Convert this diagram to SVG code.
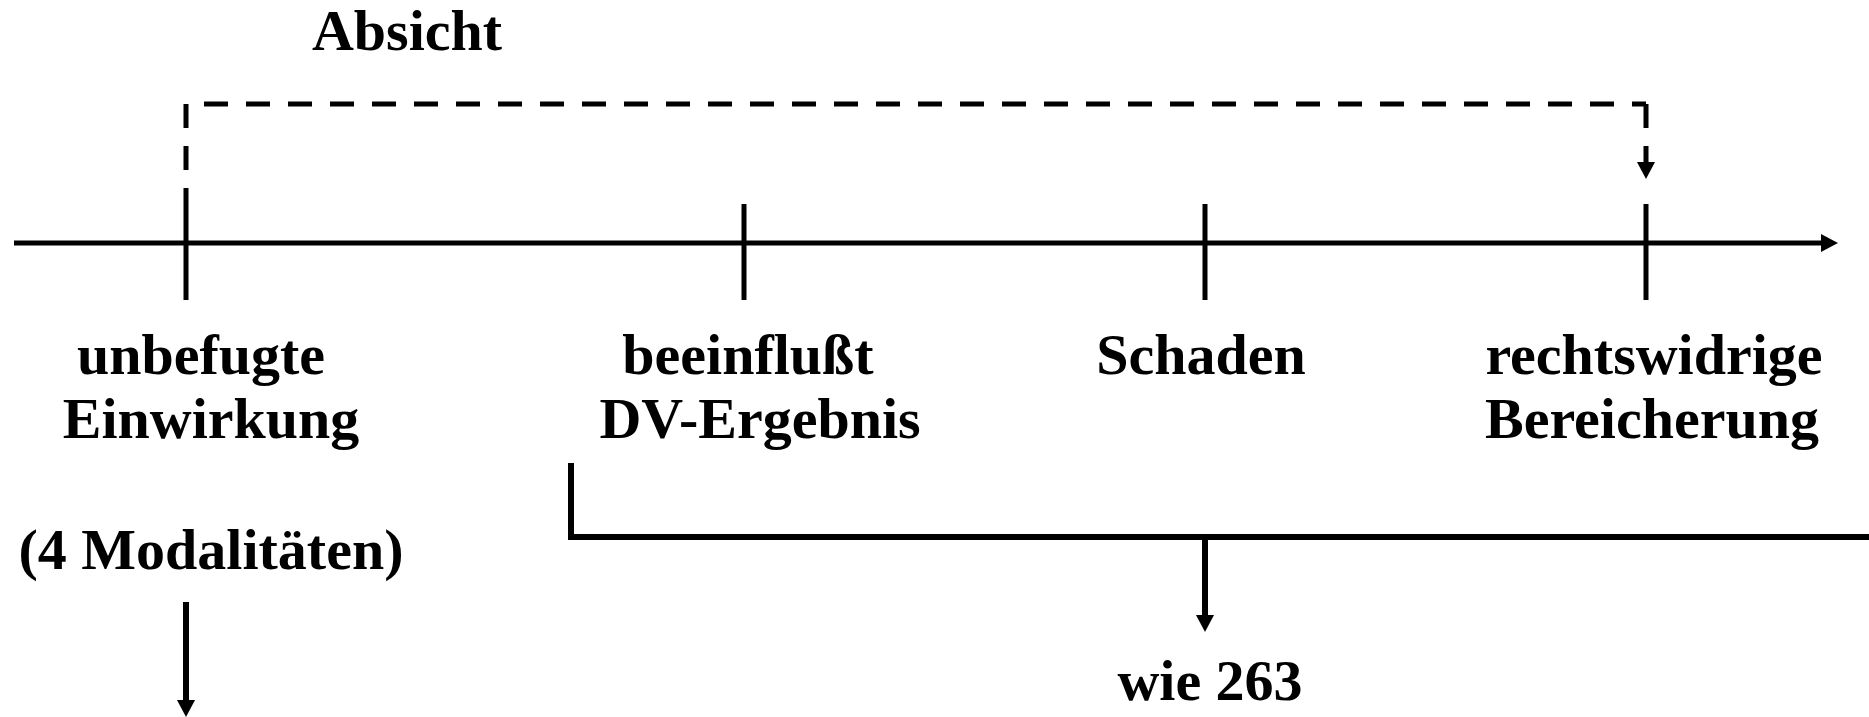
<svg xmlns="http://www.w3.org/2000/svg" width="1869" height="717" viewBox="0 0 1869 717">
  <style>
    .lbl { font-family: "Liberation Serif", "Times New Roman", serif; font-weight: bold; font-size: 58px; fill: #000; text-anchor: middle; }
    .ln { stroke: #000; stroke-width: 5; fill: none; }
    .ln6 { stroke: #000; stroke-width: 6; fill: none; }
    .dash { stroke: #000; stroke-width: 5; fill: none; stroke-dasharray: 24 18; }
  </style>
  <defs>
    <marker id="arr" viewBox="0 0 17 18" refX="0" refY="9" markerWidth="17" markerHeight="18" markerUnits="userSpaceOnUse" orient="auto">
      <path d="M0,0 L17,9 L0,18 z" fill="#000"/>
    </marker>
  </defs>
  <rect width="1869" height="717" fill="#fff"/>

  <g id="connectors">
    <line id="axis" class="ln" x1="14" y1="243" x2="1821" y2="243" marker-end="url(#arr)"/>
    <line class="ln" x1="186" y1="204" x2="186" y2="300"/>
    <line class="ln" x1="744" y1="204" x2="744" y2="300"/>
    <line class="ln" x1="1205" y1="204" x2="1205" y2="300"/>
    <line class="ln" x1="1646" y1="204" x2="1646" y2="300"/>
    <g id="absicht-link">
      <line class="dash" x1="186" y1="104" x2="186" y2="204"/>
      <line class="dash" x1="186" y1="104" x2="1646" y2="104" stroke-dashoffset="24"/>
      <line class="dash" x1="1646" y1="104" x2="1646" y2="162" marker-end="url(#arr)"/>
    </g>
    <line class="ln6" x1="186" y1="602" x2="186" y2="700" marker-end="url(#arr)"/>
    <path class="ln6" d="M571 463 V537 H1869"/>
    <line class="ln6" x1="1205" y1="537" x2="1205" y2="615" marker-end="url(#arr)"/>
  </g>

  <g id="absicht"><text class="lbl" x="407" y="50">Absicht</text></g>
  <g id="einwirkung">
    <text class="lbl" x="201" y="374">unbefugte</text>
    <text class="lbl" x="211" y="438">Einwirkung</text>
  </g>
  <g id="modalitaeten"><text class="lbl" x="211" y="569">(4 Modalitäten)</text></g>
  <g id="dv-ergebnis">
    <text class="lbl" x="748" y="374">beeinflußt</text>
    <text class="lbl" x="760" y="438">DV-Ergebnis</text>
  </g>
  <g id="schaden"><text class="lbl" x="1201" y="374">Schaden</text></g>
  <g id="bereicherung">
    <text class="lbl" x="1654" y="374">rechtswidrige</text>
    <text class="lbl" x="1652" y="438">Bereicherung</text>
  </g>
  <g id="wie263"><text class="lbl" x="1210" y="700">wie 263</text></g>
</svg>
